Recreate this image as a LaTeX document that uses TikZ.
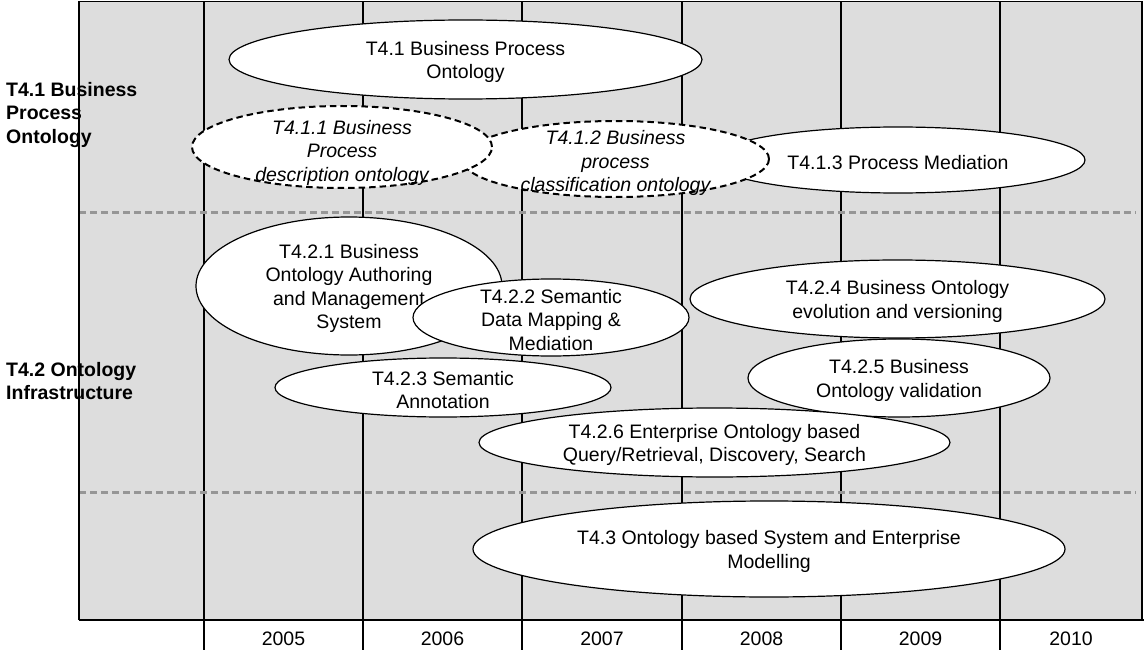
\documentclass[tikz,border=0pt]{standalone}
\usepackage{fontspec}
\setmainfont{Liberation Sans}
\usetikzlibrary{shapes.geometric}
\definecolor{lanebg}{RGB}{221,221,221}
\definecolor{lanedash}{RGB}{150,150,150}
\begin{document}
\begin{tikzpicture}[x=1pt,y=-1pt,
  every node/.style={font=\fontsize{19.5}{23.5}\selectfont},
  task/.style={ellipse, draw=black, fill=white, line width=1.2pt, inner sep=0pt},
  subtask/.style={task, dash pattern=on 6.5pt off 4pt, line width=2pt},
  tasktext/.style={align=center, inner sep=0pt, yshift=-2.5pt},
  subtasktext/.style={tasktext, font=\fontsize{19.5}{23.5}\selectfont\itshape, yshift=-1.5pt},
  rowlabel/.style={anchor=west, align=left, inner sep=0pt, font=\fontsize{19.5}{23.5}\selectfont\bfseries},
  yearlabel/.style={inner sep=0pt},
  yearline/.style={line width=1.2pt},
  rowsep/.style={draw=lanedash, line width=2.5pt, dash pattern=on 7pt off 4pt}]
\useasboundingbox (0,0) rectangle (1144,650);

% timeline frame
\fill[lanebg] (79,1.5) rectangle (1142,620);
\foreach \x in {204,363,522,682,841,1000}
  \draw[yearline] (\x,1.5) -- (\x,650);
\draw[rowsep] (79,212.5) -- (1136,212.5);
\draw[rowsep] (79,492.5) -- (1136,492.5);
\draw[line width=1.2pt] (79,620) -- (79,1.5) -- (1142,1.5) -- (1142,620);
\draw[line width=2pt] (79,620) -- (1144,620);

% years
\node[yearlabel] (y2005) at (283.5,639) {2005};
\node[yearlabel] (y2006) at (442.5,639) {2006};
\node[yearlabel] (y2007) at (602,639) {2007};
\node[yearlabel] (y2008) at (761.5,639) {2008};
\node[yearlabel] (y2009) at (920.5,639) {2009};
\node[yearlabel] (y2010) at (1071,639) {2010};

% row headings
\node[rowlabel] (row41) at (6,115) {T4.1 Business\\Process\\Ontology};
\node[rowlabel] (row42) at (6,381) {T4.2 Ontology\\Infrastructure};

% T4.1 Business Process Ontology
\node[task, minimum width=473pt, minimum height=79pt] (e41) at (465.5,59.5) {};
\node[tasktext] (t41) at (e41.center) {T4.1 Business Process\\Ontology};

\node[task, minimum width=374pt, minimum height=66pt] (e413) at (898,160) {};
\node[tasktext] (t413) at (e413.center) {T4.1.3 Process Mediation};

\node[subtask, minimum width=307pt, minimum height=76pt] (e412) at (615.5,159) {};
\node[subtasktext] (t412) at (e412.center) {T4.1.2 Business\\process\\classification ontology};

\node[subtask, minimum width=300pt, minimum height=82pt] (e411) at (342,147) {};
\node[subtasktext] (t411) at ([yshift=-1.5pt]e411.center) {T4.1.1 Business\\Process\\description ontology};

% T4.2 Ontology Infrastructure
\node[task, minimum width=306pt, minimum height=138pt] (e421) at (349,286) {};
\node[tasktext] (t421) at (e421.center) {T4.2.1 Business\\Ontology Authoring\\and Management\\System};

\node[task, minimum width=276pt, minimum height=77pt] (e422) at (551,317.5) {};
\node[tasktext] (t422) at (e422.center) {T4.2.2 Semantic\\Data Mapping \&\\Mediation};

\node[task, minimum width=336pt, minimum height=59pt] (e423) at (443,387.5) {};
\node[tasktext] (t423) at (e423.center) {T4.2.3 Semantic\\Annotation};

\node[task, minimum width=415pt, minimum height=78pt] (e424) at (897.5,299) {};
\node[tasktext] (t424) at (e424.center) {T4.2.4 Business Ontology\\evolution and versioning};

\node[task, minimum width=302pt, minimum height=78pt] (e425) at (899,378) {};
\node[tasktext] (t425) at (e425.center) {T4.2.5 Business\\Ontology validation};

\node[task, minimum width=471pt, minimum height=69pt] (e426) at (714.5,442.5) {};
\node[tasktext] (t426) at (e426.center) {T4.2.6 Enterprise Ontology based\\Query/Retrieval, Discovery, Search};

% T4.3
\node[task, minimum width=592pt, minimum height=96pt] (e43) at (769,549) {};
\node[tasktext] (t43) at (e43.center) {T4.3 Ontology based System and Enterprise\\Modelling};
\end{tikzpicture}
\end{document}
